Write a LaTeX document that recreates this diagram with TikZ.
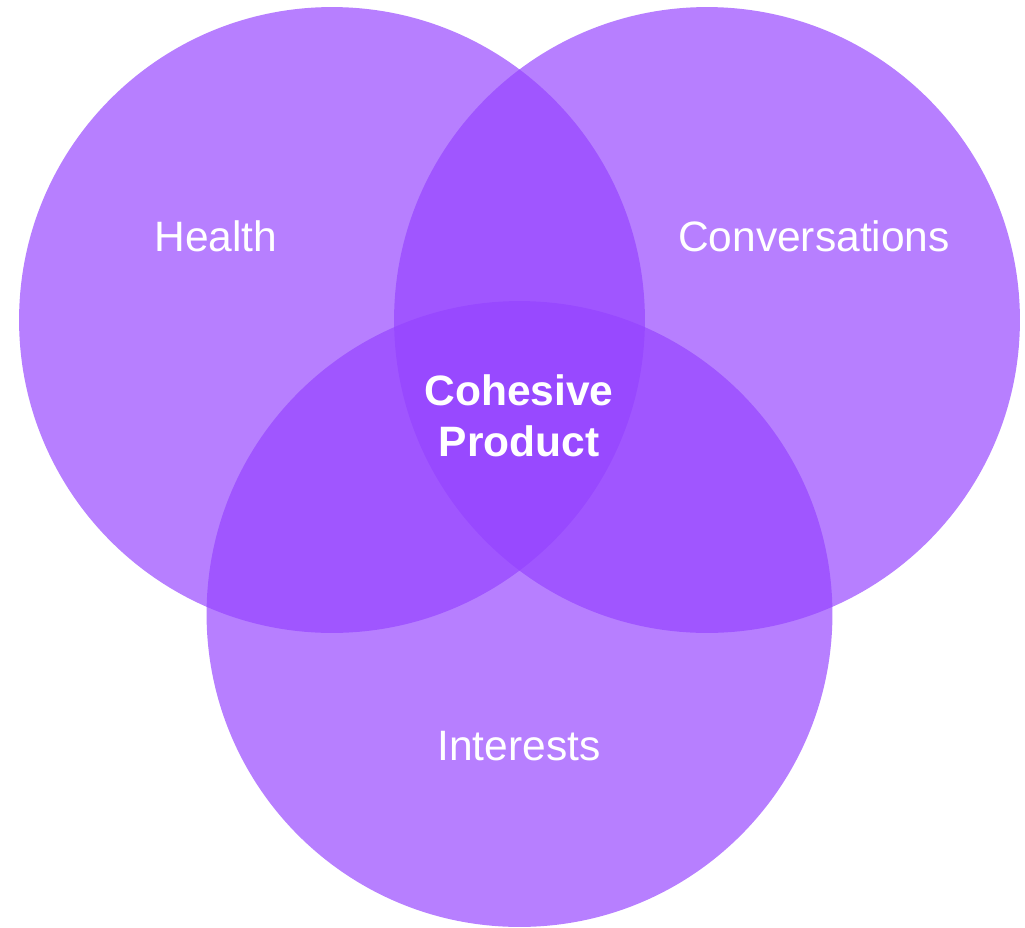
\documentclass[tikz,border=0pt]{standalone}
\usepackage{fontspec}
\setmainfont{Liberation Sans}
\definecolor{setpurple}{RGB}{149,67,255}
\begin{document}
\begin{tikzpicture}[x=0.02cm,y=-0.02cm,
  setcircle/.style={circle,fill=setpurple,fill opacity=0.68,draw=none,minimum size=12.52cm,inner sep=0pt},
  setlabel/.style={text=white,font=\fontsize{24.2}{29}\selectfont},
  corelabel/.style={text=white,font=\fontsize{24.2}{29}\selectfont\bfseries,align=center}]
  \useasboundingbox (0,0) rectangle (1025,927);
  % the three sets
  \node[setcircle] (health) at (332,320) {};
  \node[setcircle] (conv) at (707,320) {};
  \node[setcircle] (interests) at (519.5,614) {};
  % labels
  \node[setlabel] (lhealth) at (216,236) {Health};
  \node[setlabel] (lconv) at (814,236) {Conversations};
  \node[setlabel] (linterests) at (519,746) {Interests};
  \node[corelabel] (core) at (519,416) {Cohesive\\Product};
\end{tikzpicture}
\end{document}
